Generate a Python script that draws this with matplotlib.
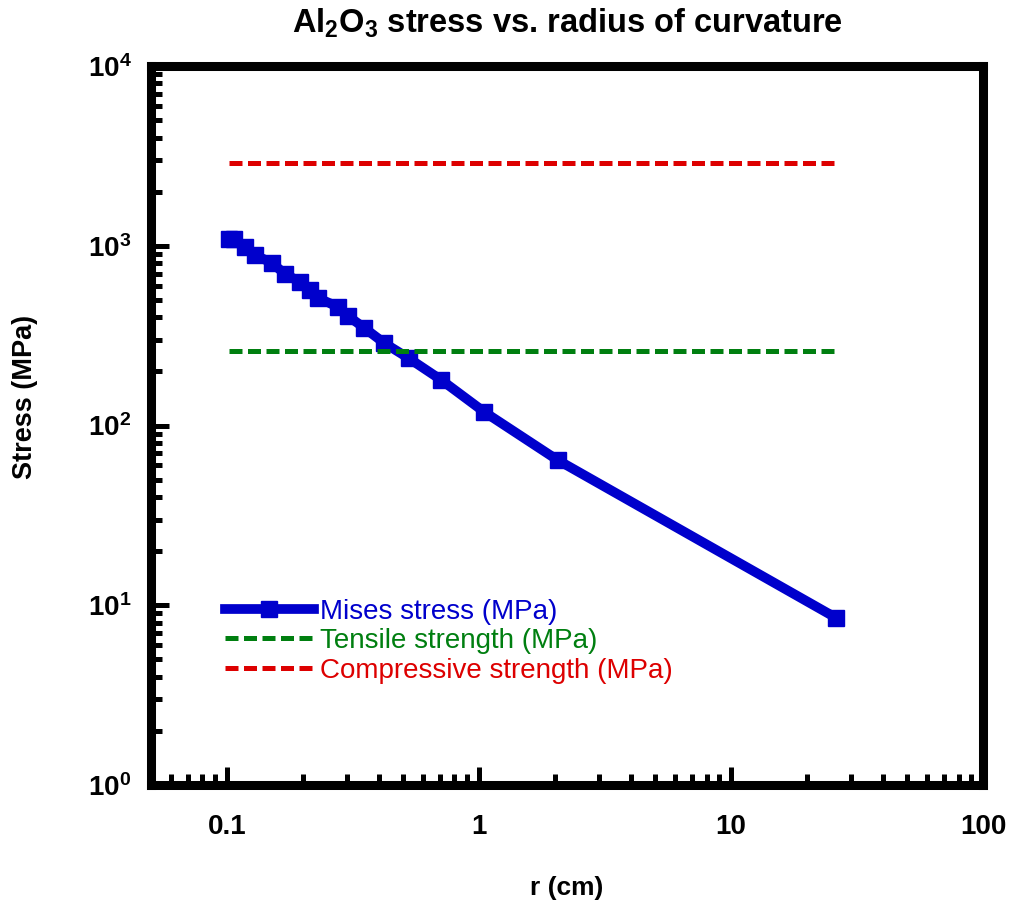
import matplotlib.pyplot as plt
from matplotlib.ticker import LogLocator, FixedLocator, FixedFormatter, NullFormatter

plt.rcParams["font.family"] = ["Liberation Sans", "DejaVu Sans"]
plt.rcParams["mathtext.fontset"] = "custom"
plt.rcParams["mathtext.rm"] = "Liberation Sans:bold"
plt.rcParams["mathtext.bf"] = "Liberation Sans:bold"
plt.rcParams["mathtext.it"] = "Liberation Sans:bold"

# radius of curvature (cm) and von Mises stress (MPa)
r_cm = [0.102, 0.107, 0.118, 0.129, 0.151, 0.170, 0.195, 0.214, 0.230, 0.277,
        0.303, 0.351, 0.422, 0.526, 0.710, 1.05, 2.05, 26.2]
mises = [1090, 1085, 984, 889, 802, 697, 629, 568, 512, 456,
         406, 349, 287, 237, 179, 119, 64.3, 8.49]

tensile_strength = 260     # MPa
compressive_strength = 2900  # MPa

x_ticks = [0.1, 1, 10, 100]
x_tick_labels = ["0.1", "1", "10", "100"]
y_ticks = [1, 10, 100, 1000, 10000]
y_tick_labels = ["$10^0$", "$10^1$", "$10^2$", "$10^3$", "$10^4$"]

blue = "#0000CC"
green = "#007F10"
red = "#DD0000"

fig = plt.figure(figsize=(10.10, 9.07), dpi=100)
ax = fig.add_axes([0.1495, 0.1345, 0.8238, 0.7927])

ax.plot(r_cm, mises, color=blue, lw=7, marker="s", ms=11, mec=blue,
        solid_joinstyle="miter", label="Mises stress (MPa)")
r_span = [r_cm[0], r_cm[-1]]
ax.plot(r_span, [tensile_strength] * 2, color=green, lw=3.6, ls=(0, (2.6, 1.1)),
        dash_capstyle="butt", label="Tensile strength (MPa)")
ax.plot(r_span, [compressive_strength] * 2, color=red, lw=3.6, ls=(0, (2.6, 1.1)),
        dash_capstyle="butt", label="Compressive strength (MPa)")

ax.set_xscale("log")
ax.set_yscale("log")
ax.set_xlim(0.05, 100)
ax.set_ylim(1, 10000)

ax.xaxis.set_major_locator(FixedLocator(x_ticks))
ax.xaxis.set_major_formatter(FixedFormatter(x_tick_labels))
ax.xaxis.set_minor_locator(LogLocator(base=10, subs=range(2, 10), numticks=20))
ax.xaxis.set_minor_formatter(NullFormatter())
ax.yaxis.set_major_locator(FixedLocator(y_ticks))
ax.yaxis.set_major_formatter(FixedFormatter(y_tick_labels))
ax.yaxis.set_minor_locator(LogLocator(base=10, subs=range(2, 10), numticks=20))
ax.yaxis.set_minor_formatter(NullFormatter())

for side in ["top", "bottom", "left", "right"]:
    ax.spines[side].set_linewidth(6.5)

ax.tick_params(which="both", direction="in", top=False, right=False, width=3.6,
               color="black")
ax.tick_params(which="major", length=13)
ax.tick_params(which="minor", length=8)
ax.tick_params(axis="x", which="major", pad=21, labelsize=20)
ax.tick_params(axis="y", which="major", pad=14, labelsize=20)
for lbl in ax.get_xticklabels():
    lbl.set_fontweight("bold")

ax.set_xlabel("r (cm)", fontsize=19, fontweight="bold", labelpad=26)
ax.set_ylabel("Stress (MPa)", fontsize=19.5, fontweight="bold")
ax.yaxis.set_label_coords(-0.136, 0.54)
ax.set_title("Al$_2$O$_3$ stress vs. radius of curvature", fontsize=23.5,
             fontweight="bold", pad=24)

leg = ax.legend(loc="center left", bbox_to_anchor=(0.089, 0.200), frameon=False,
                fontsize=20, handlelength=3.2, handletextpad=0.22, labelspacing=0.13,
                borderpad=0, borderaxespad=0, numpoints=1)
for txt, c in zip(leg.get_texts(), [blue, green, red]):
    txt.set_color(c)

fig.savefig("out.png", dpi=100)
